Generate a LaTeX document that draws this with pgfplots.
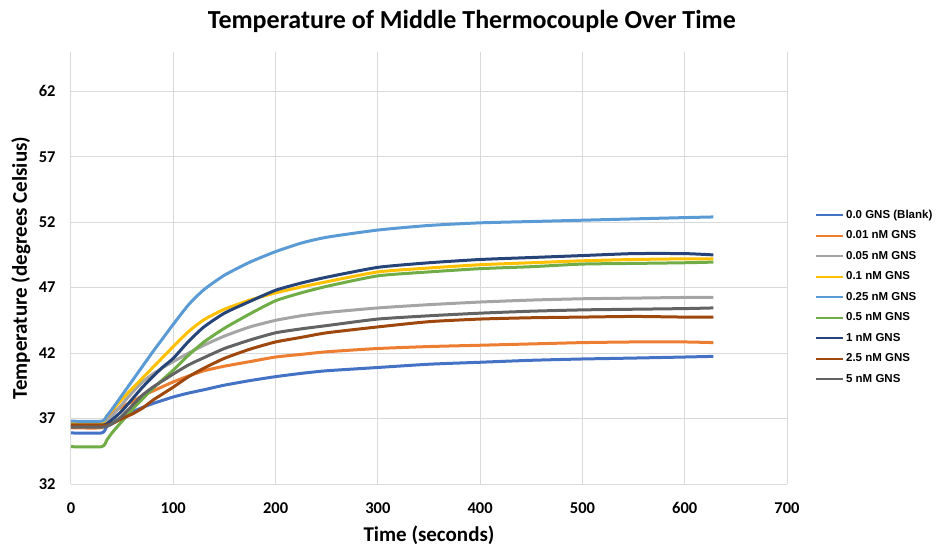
\documentclass[border=0pt]{standalone}
\usepackage{pgfplots}
\pgfplotsset{compat=1.18}
\usepackage{pgfplotstable}
\usepackage{fontspec}
\setmainfont{Carlito}
\newfontfamily\legfont{Liberation Sans}
\definecolor{serBlank}{HTML}{4472C4}
\definecolor{serOrange}{HTML}{ED7D31}
\definecolor{serGray}{HTML}{A5A5A5}
\definecolor{serGold}{HTML}{FFC000}
\definecolor{serSky}{HTML}{5B9BD5}
\definecolor{serGreen}{HTML}{70AD47}
\definecolor{serNavy}{HTML}{264478}
\definecolor{serBrown}{HTML}{9E480E}
\definecolor{serDark}{HTML}{636363}
\definecolor{gridc}{HTML}{D9D9D9}
\pgfplotstableread{
t    bl    or    lg    ye    lb    gr    nv    br    dg
0    35.9  36.3  36.4  36.7  36.8  34.85 36.5  36.5  36.35
30   35.9  36.3  36.4  36.7  36.8  34.85 36.5  36.5  36.35
35   36.4  36.9  36.8  37.2  37.2  35.35 36.6  36.5  36.4
40   36.6  37.4  37.2  37.6  37.7  35.9  36.9  36.6  36.6
50   37.1  37.9  38.1  38.5  38.8  36.8  37.6  37.0  37.2
60   37.5  38.3  39.0  39.3  39.9  37.7  38.5  37.35 38.0
70   37.85 38.75 39.8  40.1  41.0  38.5  39.4  37.8  38.8
80   38.15 39.1  40.4  40.9  42.1  39.3  40.2  38.4  39.4
90   38.4  39.45 40.9  41.7  43.15 40.0  40.95 38.9  39.9
100  38.65 39.8  41.35 42.5  44.2  40.7  41.6  39.4  40.4
115  38.95 40.25 42.0  43.65 45.7  41.85 42.9  40.2  41.1
130  39.2  40.65 42.6  44.55 46.85 42.85 44.0  40.85 41.65
150  39.55 41.0  43.3  45.35 47.95 43.9  45.05 41.6  42.35
175  39.9  41.35 44.0  46.05 48.95 45.0  45.95 42.3  43.0
200  40.2  41.7  44.5  46.6  49.75 46.0  46.8  42.85 43.55
225  40.45 41.9  44.85 47.05 50.4  46.6  47.35 43.2  43.85
250  40.65 42.1  45.1  47.45 50.85 47.1  47.8  43.55 44.1
300  40.9  42.35 45.45 48.2  51.4  47.9  48.55 44.0  44.6
350  41.15 42.5  45.7  48.5  51.75 48.2  48.9  44.4  44.85
400  41.3  42.6  45.9  48.75 51.95 48.45 49.15 44.6  45.05
450  41.45 42.7  46.05 48.9  52.05 48.6  49.3  44.7  45.2
500  41.55 42.8  46.15 49.05 52.15 48.8  49.45 44.75 45.3
550  41.62 42.85 46.2  49.15 52.25 48.85 49.6  44.8  45.35
600  41.7  42.85 46.25 49.2  52.35 48.9  49.6  44.75 45.4
628  41.75 42.8  46.25 49.2  52.4  48.95 49.5  44.75 45.45
}\data
\begin{document}
\begin{tikzpicture}
\path[use as bounding box] (-71bp,-64bp) rectangle (869bp,484bp);
\begin{axis}[
  at={(0,0)}, anchor=south west,
  scale only axis, width=716bp, height=432bp,
  xmin=0, xmax=700, ymin=32, ymax=65,
  xtick={0,100,...,700}, ytick={32,37,...,62},
  grid=major, major grid style={gridc, line width=1bp},
  axis line style={draw=none}, tick style={draw=none},
  /pgf/number format/assume math mode=true,
  ticklabel style={font=\fontsize{16.5bp}{19bp}\selectfont\bfseries, text=black},
  xticklabel style={yshift=-15bp},
  yticklabel style={xshift=-12bp},
  xlabel={Time (seconds)}, ylabel={Temperature (degrees Celsius)},
  every axis x label/.style={at={(axis description cs:0.5,-0.118)}, anchor=center, font=\fontsize{21bp}{25bp}\selectfont\bfseries},
  every axis y label/.style={at={(axis description cs:-0.07,0.5)}, rotate=90, anchor=center, font=\fontsize{21bp}{25bp}\selectfont\bfseries},
  title={Temperature of Middle Thermocouple Over Time},
  every axis title/.style={font=\fontsize{26bp}{31bp}\selectfont\bfseries, at={(axis description cs:0.56,1.07)}, anchor=center},
  legend cell align=left,
  legend style={draw=none, fill=none, at={(1.039,0.433)}, anchor=west,
    font=\legfont\fontsize{11.5bp}{13bp}\selectfont\bfseries,
    row sep=7bp, inner sep=0pt},
  legend image code/.code={\draw[#1, line width=2bp] (0bp,0bp) -- (27bp,0bp);},
  every axis plot/.append style={line width=3bp, smooth, tension=0.35, no markers},
]
\addplot[color=serBlank] table[x=t, y=bl] {\data};
\addlegendentry{0.0 GNS (Blank)}
\addplot[color=serOrange] table[x=t, y=or] {\data};
\addlegendentry{0.01 nM GNS}
\addplot[color=serGray] table[x=t, y=lg] {\data};
\addlegendentry{0.05 nM GNS}
\addplot[color=serGold] table[x=t, y=ye] {\data};
\addlegendentry{0.1 nM GNS}
\addplot[color=serSky] table[x=t, y=lb] {\data};
\addlegendentry{0.25 nM GNS}
\addplot[color=serGreen] table[x=t, y=gr] {\data};
\addlegendentry{0.5 nM GNS}
\addplot[color=serNavy] table[x=t, y=nv] {\data};
\addlegendentry{1 nM GNS}
\addplot[color=serBrown] table[x=t, y=br] {\data};
\addlegendentry{2.5 nM GNS}
\addplot[color=serDark] table[x=t, y=dg] {\data};
\addlegendentry{5 nM GNS}
\end{axis}
\end{tikzpicture}
\end{document}
